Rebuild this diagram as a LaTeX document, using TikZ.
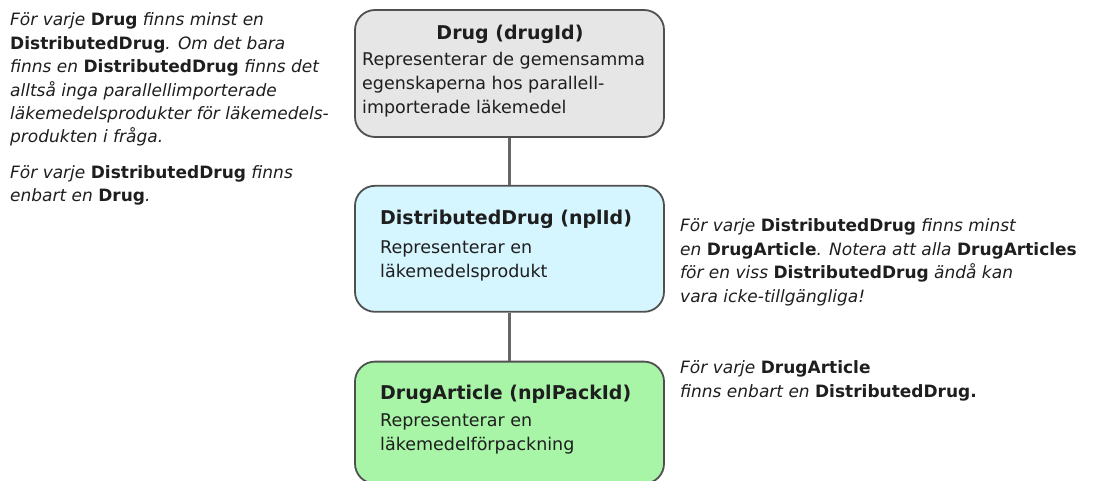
\documentclass[tikz,border=0pt]{standalone}
\usepackage{fontspec}
\setmainfont{DejaVu Sans}
\usetikzlibrary{positioning}

\definecolor{drugfill}{HTML}{E6E6E6}
\definecolor{distfill}{HTML}{D5F5FF}
\definecolor{artfill}{HTML}{A8F5A8}
\definecolor{boxline}{HTML}{505050}
\definecolor{linkline}{HTML}{666666}
\definecolor{txt}{HTML}{1E1E1E}

\newcommand{\ent}[1]{{\upshape\bfseries #1}}

\tikzset{
  entity/.style={draw=boxline, line width=1.8pt, rounded corners=20pt,
    minimum width=309pt, minimum height=127pt, inner sep=0pt},
  title/.style={font=\fontsize{19}{23}\selectfont\bfseries, inner sep=0pt, text=txt},
  body/.style={font=\fontsize{17.5}{24}\selectfont, align=left, inner sep=0pt,
    text=txt, anchor=base west},
  note/.style={font=\fontsize{17}{23.4}\selectfont\itshape, align=left,
    inner sep=0pt, text=txt, anchor=base west},
  link/.style={draw=linkline, line width=3pt}
}

\begin{document}
\begin{tikzpicture}[x=1pt, y=-1pt]
  \useasboundingbox (0,0) rectangle (1097,481);

  % entities
  \node[entity, fill=drugfill] (drug) at (509.5,73.5) {};
  \node[entity, fill=distfill, below=47pt of drug, minimum height=126pt] (dist) {};
  \node[entity, fill=artfill, below=48pt of dist, minimum height=122pt] (art) {};

  % links
  \draw[link] (drug) -- (dist);
  \draw[link] (dist) -- (art);

  % entity texts (base = last line)
  \node[title, anchor=base] (drugtitle) at (510,40) {Drug (drugId)};
  \node[body] (drugbody) at (362,114) {Representerar de gemensamma\\
    egenskaperna hos parallell-\\importerade läkemedel};

  \node[title, anchor=base west] (disttitle) at (380,225) {DistributedDrug (nplId)};
  \node[body] (distbody) at (380,277) {Representerar en\\läkemedelsprodukt};

  \node[title, anchor=base west] (arttitle) at (380,399) {DrugArticle (nplPackId)};
  \node[body] (artbody) at (380,450) {Representerar en\\läkemedelförpackning};

  % notes
  \node[note] (drugnote) at (10,143) {För varje \ent{Drug} finns minst en\\
    \ent{DistributedDrug}. Om det bara\\
    finns en \ent{DistributedDrug} finns det\\
    alltså inga parallellimporterade\\
    läkemedelsprodukter för läkemedels-\\
    produkten i fråga.};
  \node[note] (distupnote) at (10,202) {För varje \ent{DistributedDrug} finns\\
    enbart en \ent{Drug}.};
  \node[note] (distnote) at (680,302) {För varje \ent{DistributedDrug} finns minst\\
    en \ent{DrugArticle}. Notera att alla \ent{DrugArticles}\\
    för en viss \ent{DistributedDrug} ändå kan\\
    vara icke-tillgängliga!};
  \node[note] (artnote) at (680,397) {För varje \ent{DrugArticle}\\
    finns enbart en \ent{DistributedDrug.}};
\end{tikzpicture}
\end{document}
